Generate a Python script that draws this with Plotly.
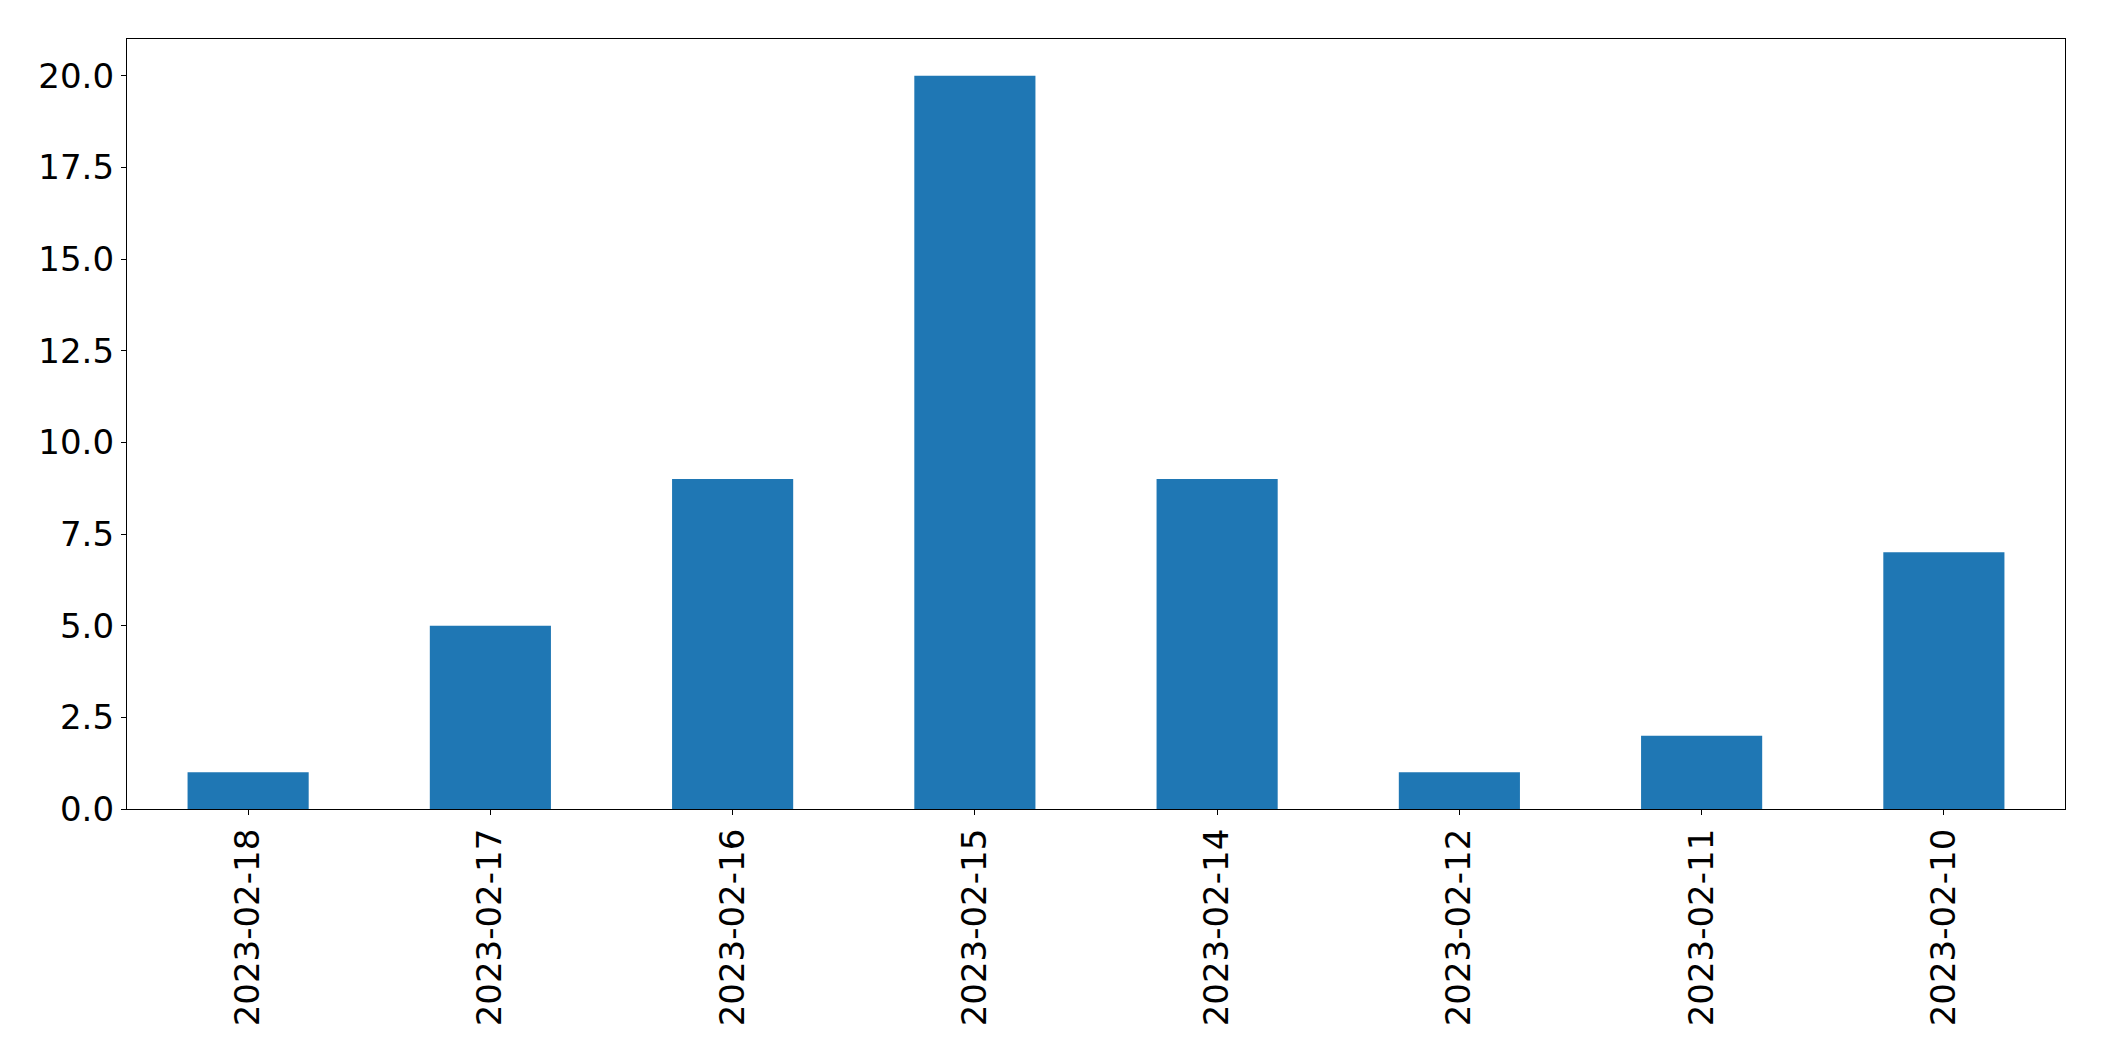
import plotly.graph_objects as go

categories = ["2023-02-18", "2023-02-17", "2023-02-16", "2023-02-15",
              "2023-02-14", "2023-02-12", "2023-02-11", "2023-02-10"]
values = [1, 5, 9, 20, 9, 1, 2, 7]
y_ticks = [0, 2.5, 5, 7.5, 10, 12.5, 15, 17.5, 20]

fig = go.Figure(go.Bar(x=categories, y=values, marker_color="#1f77b4",
                       marker_line_width=0, width=0.5))

font = dict(family="DejaVu Sans", size=34, color="black")
fig.update_layout(
    width=2096, height=1053,
    margin=dict(l=119, r=39, t=31, b=252),
    paper_bgcolor="white", plot_bgcolor="white",
    showlegend=False, font=font,
)
fig.update_xaxes(type="category", range=[-0.5, 7.5], tickangle=-90,
                 showline=True, linecolor="black", linewidth=1.3, mirror=True,
                 ticks="outside", ticklen=5, tickwidth=1.3, tickcolor="black",
                 showgrid=False, tickfont=font)
fig.update_yaxes(range=[0, 21], tickvals=y_ticks, tickformat=".1f",
                 showline=True, linecolor="black", linewidth=1.3, mirror=True,
                 ticks="outside", ticklen=5, tickwidth=1.3, tickcolor="black",
                 showgrid=False, zeroline=False, tickfont=font)

fig.write_html("out.html")
